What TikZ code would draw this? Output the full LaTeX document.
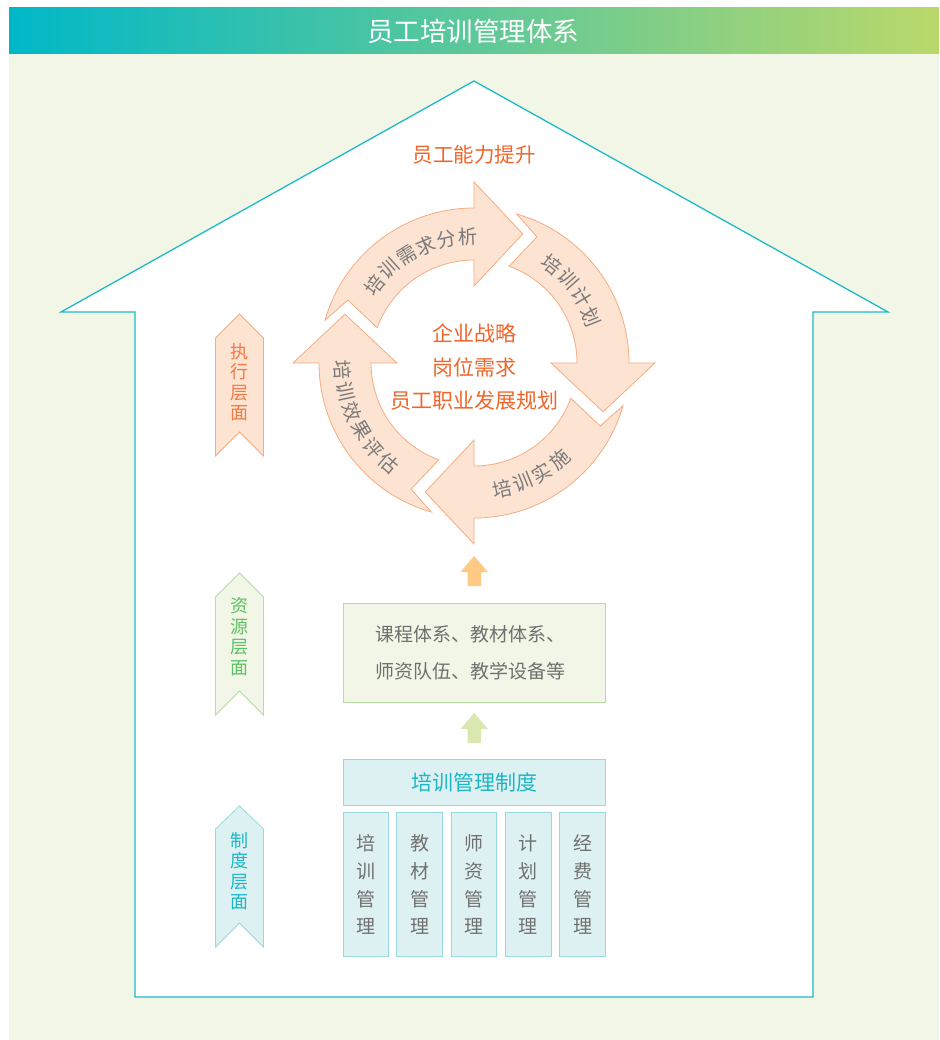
\documentclass[tikz,border=0pt]{standalone}
\usepackage{fontspec}
\setmainfont{Noto Sans CJK SC}
\definecolor{bgc}{HTML}{F1F6E6}
\definecolor{gradL}{HTML}{00B8C8}
\definecolor{gradR}{HTML}{BAD86A}
\definecolor{houseline}{HTML}{1DBBC8}
\definecolor{cyfill}{HTML}{FDE3D2}
\definecolor{cyline}{HTML}{F6AC80}
\definecolor{cytext}{HTML}{7A7A7A}
\definecolor{coretext}{HTML}{F0652A}
\definecolor{exectext}{HTML}{F27A45}
\definecolor{resfill}{HTML}{F1F6E6}
\definecolor{resline}{HTML}{B3DDA2}
\definecolor{restext}{HTML}{5EC163}
\definecolor{sysfill}{HTML}{DEF1F2}
\definecolor{sysline}{HTML}{98D8DF}
\definecolor{systext}{HTML}{1CB7C6}
\definecolor{graytext}{HTML}{707070}
\definecolor{uporange}{HTML}{FFCA84}
\definecolor{upgreen}{HTML}{D8E8B0}
\usetikzlibrary{calc}
\tikzset{
  ribtext/.style={font=\fontsize{18}{20.5}\selectfont, align=center, inner sep=0pt},
  arctext/.style={font=\fontsize{19.5}{19.5}\selectfont, text=cytext, inner sep=0pt},
  cycarrow/.style={fill=cyfill, draw=cyline, line width=0.8pt, line join=miter},
  colbox/.style={draw=sysline, fill=sysfill, line width=1pt, minimum width=45.7pt,
    minimum height=144pt, inner sep=0pt, align=center, text=graytext,
    font=\fontsize{19}{27.6}\selectfont}
}
\newcommand\cyclearrow[1]{%
  \draw[cycarrow, rotate=#1] (164:155) arc[start angle=164, end angle=90, radius=155]
    -- (90:181) -- (69.3:138) -- (90:77) -- (90:103)
    arc[start angle=90, end angle=160, radius=103] -- (153.5:141) -- cycle;}
\begin{document}
\begin{tikzpicture}[x=1pt,y=-1pt]
\useasboundingbox (0,0) rectangle (939,1040);
% background and title bar
\fill[bgc] (9,54) rectangle (939,1040);
\shade[left color=gradL, right color=gradR] (9,8) rectangle (939,54);
\node[text=white, font=\fontsize{26.5}{26.5}\selectfont, inner sep=0pt] (title) at (473,31) {员工培训管理体系};
% house
\draw[houseline, fill=white, line width=1.3pt, line join=miter]
  (474,81) -- (888,312) -- (813,312) -- (813,997) -- (135,997) -- (135,312) -- (61,312) -- cycle;
\node[text=coretext, font=\fontsize{20.5}{20.5}\selectfont, inner sep=0pt] (goal) at (474,155) {员工能力提升};
% ribbons
\draw[fill=cyfill, draw=cyline, line width=0.8pt]
  (215.5,338) -- (239.5,314) -- (263.5,338) -- (263.5,456) -- (239.5,432) -- (215.5,456) -- cycle;
\node[ribtext, text=exectext] (exec) at (239.5,382) {执\\行\\层\\面};
\draw[fill=resfill, draw=resline, line width=0.8pt]
  (215.5,597) -- (239.5,573) -- (263.5,597) -- (263.5,715) -- (239.5,691) -- (215.5,715) -- cycle;
\node[ribtext, text=restext] (res) at (239.5,636.5) {资\\源\\层\\面};
\draw[fill=sysfill, draw=sysline, line width=0.8pt]
  (215.5,829) -- (239.5,806) -- (263.5,829) -- (263.5,947) -- (239.5,923) -- (215.5,947) -- cycle;
\node[ribtext, text=systext] (sys) at (239.5,871) {制\\度\\层\\面};
% cycle
\begin{scope}[shift={(474,363)}, yscale=-1]
  \cyclearrow{0}
  \cyclearrow{-90}
  \cyclearrow{-180}
  \cyclearrow{90}
  \foreach \i/\c in {0/培,1/训,2/需,3/求,4/分,5/析}{
    \pgfmathsetmacro\a{141.8-9.84*\i}
    \node[arctext, rotate=\a-90] (ta\i) at (\a:126.5) {\c};}
  \foreach \i/\c in {0/培,1/训,2/计,3/划}{
    \pgfmathsetmacro\a{51.6-10.03*\i}
    \node[arctext, rotate=\a-90] (tb\i) at (\a:126) {\c};}
  \foreach \i/\c in {0/培,1/训,2/实,3/施}{
    \pgfmathsetmacro\a{282.5+9.7*\i}
    \node[arctext, rotate=\a+90] (tc\i) at (\a:129) {\c};}
  \foreach \i/\c in {0/培,1/训,2/效,3/果,4/评,5/估}{
    \pgfmathsetmacro\a{183+9.3*\i}
    \node[arctext, rotate=\a+90] (td\i) at (\a:131.5) {\c};}
\end{scope}
\node[text=coretext, font=\fontsize{21}{33.3}\selectfont, align=center, inner sep=0pt] (core) at (474,367) {企业战略\\岗位需求\\员工职业发展规划};
% up arrows
\fill[uporange] (474,556) -- (488,572) -- (481,572) -- (481,586) -- (467.5,586) -- (467.5,572) -- (460.5,572) -- cycle;
\fill[upgreen] (474,713) -- (488,729) -- (481,729) -- (481,743) -- (467.5,743) -- (467.5,729) -- (460.5,729) -- cycle;
% resource box
\node[draw=resline, fill=resfill, line width=1pt, minimum height=99pt, inner xsep=32pt, inner ysep=0pt,
  text width=198.7pt, align=left, text=graytext, font=\fontsize{19}{37}\selectfont]
  (resbox) at (474.35,652.5) {课程体系、教材体系、\\师资队伍、教学设备等};
% system box
\node[draw=sysline, fill=sysfill, line width=1pt, minimum width=262.7pt, minimum height=45.7pt,
  inner sep=0pt, text=systext, font=\fontsize{21}{21}\selectfont]
  (sysbox) at (474.35,782.3) {培训管理制度};
\node[colbox] (c1) at (366,884.7) {培\\训\\管\\理};
\node[colbox] (c2) at (419.7,884.7) {教\\材\\管\\理};
\node[colbox] (c3) at (474,884.7) {师\\资\\管\\理};
\node[colbox] (c4) at (528.2,884.7) {计\\划\\管\\理};
\node[colbox] (c5) at (582.5,884.7) {经\\费\\管\\理};
\end{tikzpicture}
\end{document}
